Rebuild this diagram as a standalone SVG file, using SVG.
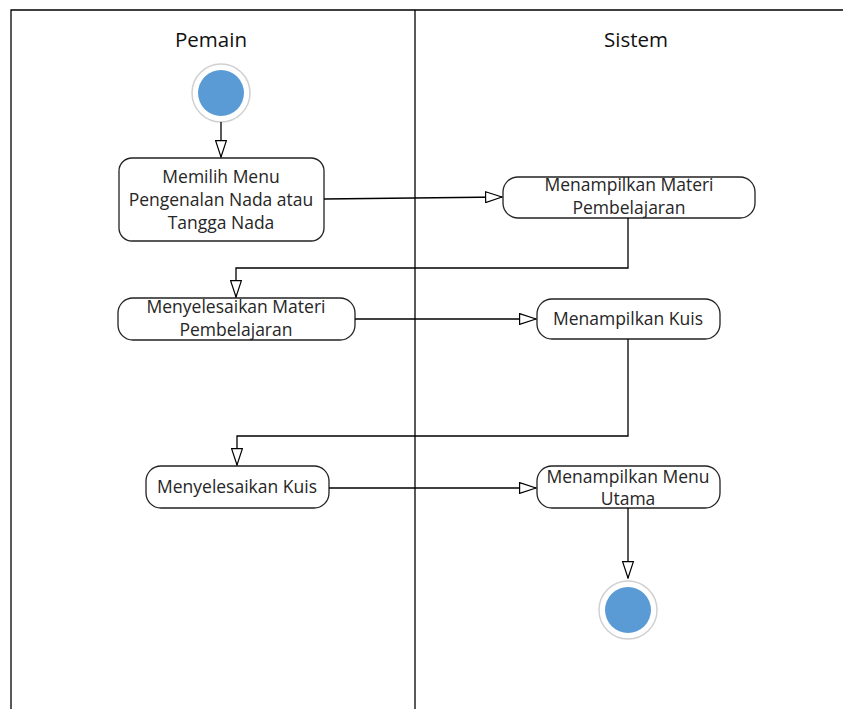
<svg xmlns="http://www.w3.org/2000/svg" width="843" height="709" viewBox="0 0 843 709">
<defs>
<marker id="tri" markerWidth="18" markerHeight="12" refX="17" refY="6" orient="auto" markerUnits="userSpaceOnUse" viewBox="0 0 18 12">
<path d="M0.6,0.6 L17,6 L0.6,11.4 Z" fill="#fff" stroke="#000" stroke-width="1.2"/>
</marker>
</defs>
<style>
.frame{fill:none;stroke:#000;stroke-width:1.3}
.box{fill:#fff;stroke:#222;stroke-width:1.3}
.t{font-family:"Open Sans","Liberation Sans",sans-serif;font-size:17.5px;fill:#262626;text-anchor:middle}
.h{font-family:"Open Sans","Liberation Sans",sans-serif;font-size:20.5px;fill:#111;text-anchor:middle}
.c{fill:none;stroke:#000;stroke-width:1.3;marker-end:url(#tri)}
.ring{fill:#fff;stroke:#d0d0d0;stroke-width:1.5}
.dot{fill:#5b9bd5}
</style>
<rect width="843" height="709" fill="#fff"/>
<g id="frame">
<path class="frame" d="M11,709 V10 H843"/>
<path class="frame" d="M415,10 V709"/>
<text class="h" x="211" y="47">Pemain</text>
<text class="h" x="636" y="47">Sistem</text>
</g>
<g id="start">
<circle class="ring" cx="221" cy="93" r="29"/>
<circle class="dot" cx="221" cy="93" r="23"/>
</g>
<g id="n1">
<rect class="box" x="119" y="158" width="205" height="83" rx="13"/>
<text class="t" x="221" y="183">Memilih Menu</text>
<text class="t" x="221" y="206">Pengenalan Nada atau</text>
<text class="t" x="221" y="229">Tangga Nada</text>
</g>
<g id="n2">
<rect class="box" x="503" y="177" width="252" height="41" rx="15"/>
<text class="t" x="629" y="191">Menampilkan Materi</text>
<text class="t" x="629" y="214">Pembelajaran</text>
</g>
<g id="n3">
<rect class="box" x="118" y="298" width="237" height="42" rx="15"/>
<text class="t" x="236" y="313">Menyelesaikan Materi</text>
<text class="t" x="236" y="336">Pembelajaran</text>
</g>
<g id="n4">
<rect class="box" x="537" y="299" width="183" height="40" rx="15"/>
<text class="t" x="628" y="325">Menampilkan Kuis</text>
</g>
<g id="n5">
<rect class="box" x="146" y="466" width="183" height="42" rx="15"/>
<text class="t" x="237" y="493">Menyelesaikan Kuis</text>
</g>
<g id="n6">
<rect class="box" x="537" y="466" width="183" height="42" rx="15"/>
<text class="t" x="628" y="483">Menampilkan Menu</text>
<text class="t" x="628" y="505">Utama</text>
</g>
<g id="end">
<circle class="ring" cx="628" cy="610" r="29"/>
<circle class="dot" cx="628" cy="610" r="23"/>
</g>
<g id="connectors">
<path class="c" d="M221,122 V157"/>
<path class="c" d="M324,199 L502,197"/>
<path class="c" d="M628,218 V268 H236 V297"/>
<path class="c" d="M355,319 H536"/>
<path class="c" d="M628,339 V436 H237 V465"/>
<path class="c" d="M329,488 H536"/>
<path class="c" d="M628,508 V578"/>
</g>
</svg>
